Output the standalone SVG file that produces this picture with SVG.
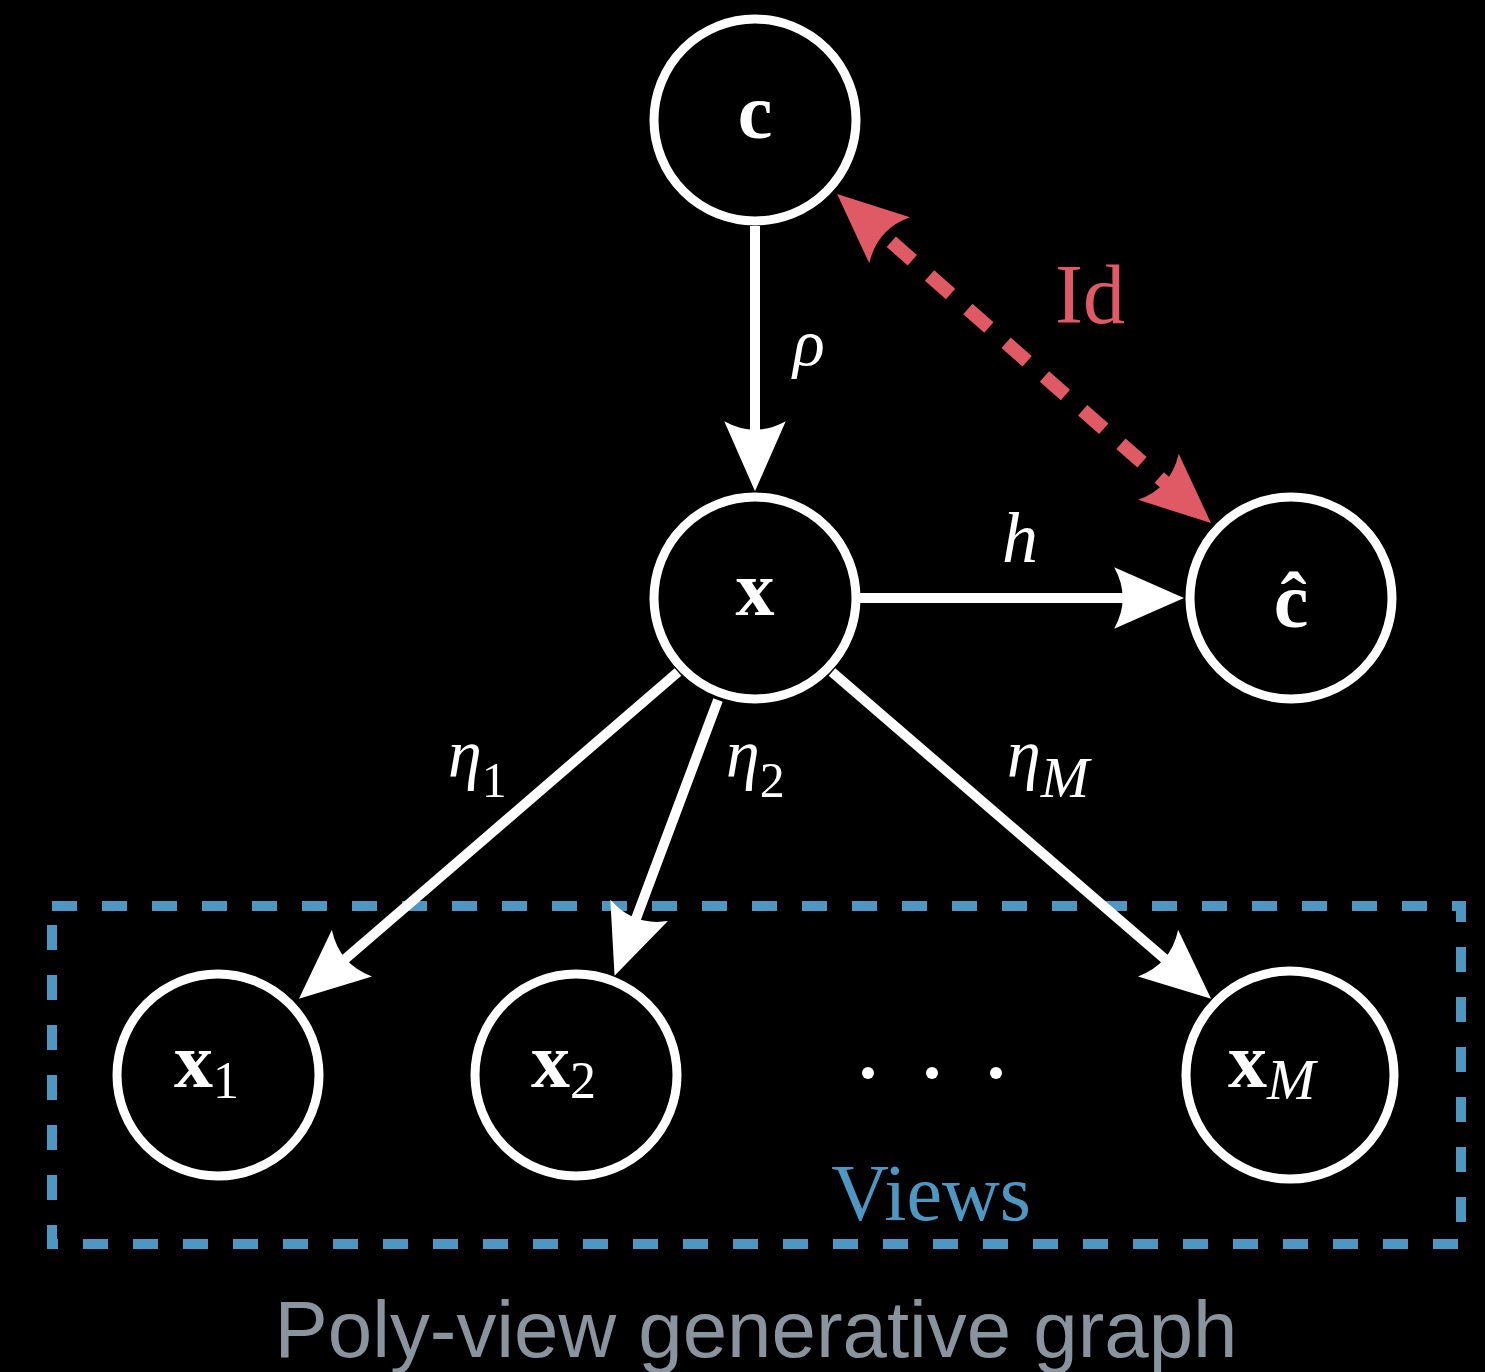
<svg xmlns="http://www.w3.org/2000/svg" width="1485" height="1372" viewBox="0 0 1485 1372">
<style>
.node{fill:#000;stroke:#fff;stroke-width:9}
.lbl{font-family:"Liberation Serif","DejaVu Serif",serif;font-weight:bold;fill:#fff;font-size:78px}
.sub{font-family:"Liberation Serif","DejaVu Serif",serif;font-weight:normal;fill:#fff}
.it{font-family:"Liberation Serif","DejaVu Serif",serif;font-style:italic;fill:#fff}
.edge{stroke:#fff;stroke-width:10;fill:none}
.red{stroke:#e05a66;stroke-width:14;fill:none;stroke-dasharray:28 23}
</style>
<defs>
<marker id="ah" markerUnits="userSpaceOnUse" markerWidth="70" markerHeight="62" viewBox="0 0 66 58" refX="46" refY="29" orient="auto">
<path d="M0,0 L66,29 L0,58 Q16,29 0,0 Z" fill="#fff"/>
</marker>
<marker id="ahr" markerUnits="userSpaceOnUse" markerWidth="70" markerHeight="62" viewBox="0 0 66 58" refX="46" refY="29" orient="auto-start-reverse">
<path d="M0,0 L66,29 L0,58 Q16,29 0,0 Z" fill="#e05a66"/>
</marker>
</defs>
<rect width="1485" height="1372" fill="#000"/>

<g id="views-box">
<rect x="52" y="906" width="1409" height="338" fill="none" stroke="#4f97c3" stroke-width="10" stroke-dasharray="25 25"/>
<text x="931" y="1220" text-anchor="middle" font-family="Liberation Serif, serif" font-size="80" fill="#4f97c3">Views</text>
</g>

<g id="connectors">
<line class="edge" x1="755" y1="226" x2="755" y2="470" marker-end="url(#ah)"/>
<line class="edge" x1="860" y1="598" x2="1163" y2="598" marker-end="url(#ah)"/>
<line class="edge" x1="678" y1="672" x2="315" y2="985" marker-end="url(#ah)"/>
<line class="edge" x1="718" y1="700" x2="622" y2="956" marker-end="url(#ah)"/>
<line class="edge" x1="832" y1="672" x2="1195" y2="985" marker-end="url(#ah)"/>
<line class="red" x1="853" y1="208" x2="1195" y2="509" marker-start="url(#ahr)" marker-end="url(#ahr)"/>
<text class="it" x="793" y="365" font-size="66">ρ</text>
<text class="it" x="1002" y="562" font-size="72">h</text>
<text x="1055" y="323" font-family="Liberation Serif, serif" font-size="84" fill="#e05a66">Id</text>
<text class="it" x="448" y="777" font-size="68">η<tspan class="sub" font-style="normal" font-size="50" dy="20">1</tspan></text>
<text class="it" x="726" y="777" font-size="68">η<tspan class="sub" font-style="normal" font-size="50" dy="20">2</tspan></text>
<text class="it" x="1007" y="777" font-size="68">η<tspan font-size="58" dy="20">M</tspan></text>
</g>

<g id="node-c">
<circle class="node" cx="755" cy="120" r="101"/>
<text class="lbl" x="755" y="138" text-anchor="middle">c</text>
</g>
<g id="node-x">
<circle class="node" cx="755" cy="598" r="101"/>
<text class="lbl" x="755" y="615" text-anchor="middle">x</text>
</g>
<g id="node-chat">
<circle class="node" cx="1291" cy="598" r="101"/>
<text class="lbl" x="1291" y="627" text-anchor="middle">ĉ</text>
</g>
<g id="node-x1">
<circle class="node" cx="218" cy="1075" r="101"/>
<text class="lbl" x="174" y="1087">x<tspan class="sub" font-size="52" dy="11">1</tspan></text>
</g>
<g id="node-x2">
<circle class="node" cx="576" cy="1075" r="101"/>
<text class="lbl" x="531" y="1087">x<tspan class="sub" font-size="52" dy="11">2</tspan></text>
</g>
<g id="node-dots">
<circle cx="868" cy="1073" r="6" fill="#fff"/>
<circle cx="932" cy="1073" r="6" fill="#fff"/>
<circle cx="996" cy="1073" r="6" fill="#fff"/>
</g>
<g id="node-xM">
<circle class="node" cx="1290" cy="1075" r="104"/>
<text class="lbl" x="1228" y="1087">x<tspan class="it" font-weight="normal" font-size="58" dy="12">M</tspan></text>
</g>

<text x="756" y="1357" text-anchor="middle" font-family="Liberation Sans, Arial, sans-serif" font-size="80" fill="#8a949e" textLength="963" lengthAdjust="spacingAndGlyphs">Poly-view generative graph</text>
</svg>
